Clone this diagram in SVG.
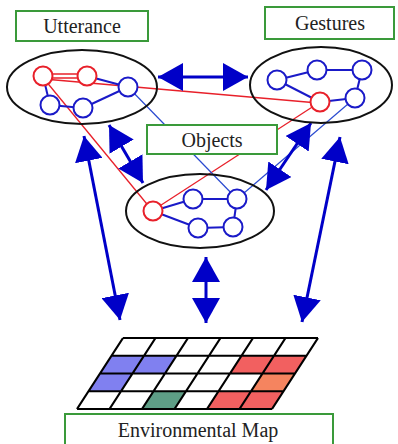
<svg xmlns="http://www.w3.org/2000/svg" width="398" height="444" viewBox="0 0 398 444">
<style>
.lbl{fill:#fff;stroke:#3a9a3a;stroke-width:2}
.t{font-family:"Liberation Serif",serif;font-size:20px;fill:#222;text-anchor:middle}
.ell{fill:none;stroke:#111;stroke-width:2}
.bn{fill:#fff;stroke:#1a1ac8;stroke-width:2}
.rn{fill:#fff;stroke:#e8202a;stroke-width:2}
.be{stroke:#1a1ac8;stroke-width:2}
.re{stroke:#e8202a;stroke-width:1.3}
.bt{stroke:#2a4ad0;stroke-width:1.2}
.arr{stroke:#0000c8;stroke-width:3;marker-start:url(#ah);marker-end:url(#ah)}
.grid{stroke:#000;stroke-width:2.2;fill:none}
</style>
<defs>
<marker id="ah" viewBox="0 0 25 28" refX="25" refY="14" markerWidth="25" markerHeight="28" markerUnits="userSpaceOnUse" orient="auto-start-reverse">
<path d="M0,0 L25,14 L0,28 z" fill="#0000c8"/>
</marker>
</defs>
<rect width="398" height="444" fill="#fff"/>

<g id="connectors">
<line class="re" x1="44" y1="79" x2="318" y2="103"/>
<line class="re" x1="45" y1="80" x2="151" y2="209"/>
<line class="re" x1="155" y1="209" x2="320" y2="102"/>
<line class="bt" x1="128" y1="87" x2="237" y2="199"/>
<line class="bt" x1="237" y1="199" x2="355" y2="98"/>
<line class="arr" x1="158" y1="77" x2="248" y2="77"/>
<line class="arr" x1="84" y1="136" x2="120" y2="320"/>
<line class="arr" x1="109" y1="125" x2="143" y2="183"/>
<line class="arr" x1="206" y1="257" x2="206" y2="323"/>
<line class="arr" x1="311" y1="123" x2="266" y2="190"/>
<line class="arr" x1="340" y1="137" x2="302" y2="322"/>
</g>

<g id="utterance">
<ellipse class="ell" cx="82" cy="87" rx="75" ry="37"/>
<line x1="43" y1="74" x2="87" y2="74" stroke="#e8202a" stroke-width="1.5"/>
<line x1="43" y1="78" x2="87" y2="78" stroke="#e8202a" stroke-width="1.5"/>
<line class="be" x1="87" y1="76" x2="128" y2="87"/>
<line class="be" x1="128" y1="87" x2="83" y2="108"/>
<line class="be" x1="83" y1="108" x2="50" y2="105"/>
<line class="be" x1="50" y1="105" x2="43" y2="76"/>
<circle class="rn" cx="43" cy="76" r="9.5"/>
<circle class="rn" cx="87" cy="76" r="9.5"/>
<circle class="bn" cx="128" cy="87" r="9.5"/>
<circle class="bn" cx="50" cy="105" r="9.5"/>
<circle class="bn" cx="83" cy="108" r="9.5"/>
<rect class="lbl" x="16" y="11" width="132" height="30"/>
<text class="t" x="82" y="33">Utterance</text>
</g>

<g id="gestures">
<ellipse class="ell" cx="321" cy="85" rx="71" ry="38"/>
<line class="be" x1="277" y1="80" x2="317" y2="70"/>
<line class="be" x1="317" y1="70" x2="362" y2="70"/>
<line class="be" x1="362" y1="70" x2="355" y2="98"/>
<line class="be" x1="355" y1="98" x2="320" y2="102"/>
<line class="be" x1="320" y1="102" x2="277" y2="80"/>
<circle class="bn" cx="277" cy="80" r="9.5"/>
<circle class="bn" cx="317" cy="70" r="9.5"/>
<circle class="bn" cx="362" cy="70" r="9.5"/>
<circle class="rn" cx="320" cy="102" r="9.5"/>
<circle class="bn" cx="355" cy="98" r="9.5"/>
<rect class="lbl" x="265" y="7" width="129" height="32"/>
<text class="t" x="330" y="30">Gestures</text>
</g>

<g id="objects">
<ellipse class="ell" cx="200" cy="211" rx="74" ry="37"/>
<line class="be" x1="153" y1="211" x2="193" y2="199"/>
<line class="be" x1="153" y1="211" x2="198" y2="228"/>
<line class="be" x1="193" y1="199" x2="237" y2="199"/>
<line class="be" x1="237" y1="199" x2="233" y2="227"/>
<line class="be" x1="198" y1="228" x2="233" y2="227"/>
<circle class="rn" cx="153" cy="211" r="9.5"/>
<circle class="bn" cx="193" cy="199" r="9.5"/>
<circle class="bn" cx="237" cy="199" r="9.5"/>
<circle class="bn" cx="198" cy="228" r="9.5"/>
<circle class="bn" cx="233" cy="227" r="9.5"/>
<rect class="lbl" x="147" y="125" width="130" height="29"/>
<text class="t" x="212" y="147">Objects</text>
</g>

<g id="environmental-map">
<polygon points="111.5,355.75 144,355.75 132.5,373.5 100,373.5" fill="#8080f0"/>
<polygon points="144,355.75 176.5,355.75 165,373.5 132.5,373.5" fill="#8080f0"/>
<polygon points="241.5,355.75 274,355.75 262.5,373.5 230,373.5" fill="#f26060"/>
<polygon points="274,355.75 306.5,355.75 295,373.5 262.5,373.5" fill="#f26060"/>
<polygon points="100,373.5 132.5,373.5 121,391.25 88.5,391.25" fill="#8080f0"/>
<polygon points="262.5,373.5 295,373.5 283.5,391.25 251,391.25" fill="#f5845f"/>
<polygon points="153.5,391.25 186,391.25 174.5,409 142,409" fill="#5e9e86"/>
<polygon points="218.5,391.25 251,391.25 239.5,409 207,409" fill="#f26060"/>
<polygon points="251,391.25 283.5,391.25 272,409 239.5,409" fill="#f26060"/>
<path class="grid" d="M123,338 H318 M111.5,355.75 H306.5 M100,373.5 H295 M88.5,391.25 H283.5 M77,409 H272
M123,338 L77,409 M155.5,338 L109.5,409 M188,338 L142,409 M220.5,338 L174.5,409 M253,338 L207,409 M285.5,338 L239.5,409 M318,338 L272,409"/>
<rect class="lbl" x="65" y="414" width="268" height="34"/>
<text class="t" x="198" y="437">Environmental Map</text>
</g>
</svg>
